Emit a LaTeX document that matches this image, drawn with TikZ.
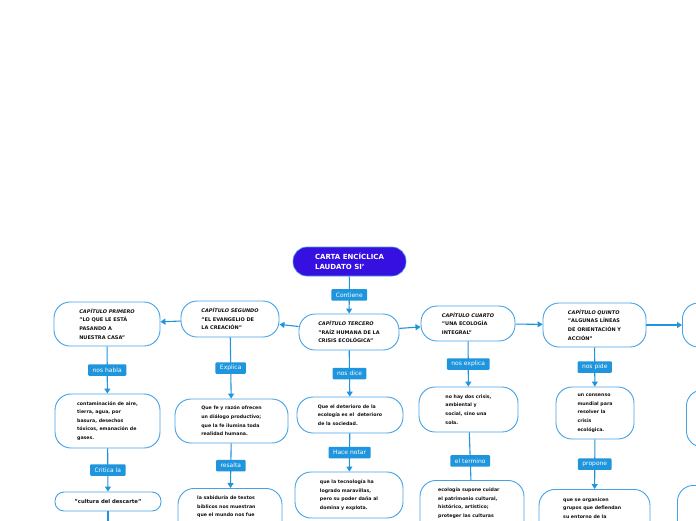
\documentclass[tikz,border=0pt]{standalone}
\usepackage{fontspec}
\setmainfont{DejaVu Sans}
\usetikzlibrary{arrows.meta}
\definecolor{bblue}{HTML}{45A2E6}
\definecolor{lblue}{HTML}{1F95DD}
\definecolor{rootc}{HTML}{3510E0}
\definecolor{txtc}{HTML}{111111}
\begin{document}
\begin{tikzpicture}[x=1pt,y=-1pt,
 box/.style={draw=bblue, line width=0.9pt, fill=white, rounded corners=#1, inner sep=0pt, align=left, text=txtc, font=\bfseries\fontsize{4.7}{8.6}\selectfont},
 box/.default=16pt,
 chap/.style={box, font=\bfseries\fontsize{5}{8.6}\selectfont},
 btext/.style={inner sep=0pt, align=left, text=txtc, font=\bfseries\fontsize{4.7}{8.6}\selectfont},
 lab/.style={fill=lblue, text=white, rounded corners=1pt, inner xsep=4.5pt, inner ysep=0pt, minimum height=11.5pt, font=\fontsize{6}{7}\selectfont},
 conn/.style={draw=lblue, line width=1.1pt},
 arr/.style={conn, -{Triangle[length=5pt,width=6pt]}}
]
\path[use as bounding box, fill=white] (0,0) rectangle (696,520);
\clip (0,0) rectangle (696,520);

% root
\node (root)[fill=rootc, draw=bblue, line width=0.6pt, rounded corners=14pt, minimum width=113pt, minimum height=29pt, inner sep=0pt, text=white, align=left, font=\bfseries\fontsize{7}{9.5}\selectfont] at (349.5,261.5) {CARTA ENCÍCLICA\\LAUDATO SI'};

% chapters
\node (ch1)[chap, minimum width=106pt, minimum height=44pt] at (107,324) {\textit{CAPÍTULO PRIMERO}\\"LO QUE LE ESTÁ\\PASANDO A\\NUESTRA CASA"};
\node (ch2)[chap, minimum width=98pt, minimum height=36pt] at (230,319) {\textit{CAPÍTULO SEGUNDO}\\"EL EVANGELIO DE\\LA CREACIÓN"};
\node (ch3)[chap, minimum width=100pt, minimum height=36pt] at (349,332) {\textit{CAPÍTULO TERCERO}\\"RAÍZ HUMANA DE LA\\CRISIS ECOLÓGICA"};
\node (ch4)[chap, minimum width=94pt, minimum height=35pt] at (468,323.5) {\textit{CAPÍTULO CUARTO}\\"UNA ECOLOGÍA\\INTEGRAL"};
\node (ch5)[chap, minimum width=103pt, minimum height=44pt] at (594.5,325) {\textit{CAPÍTULO QUINTO}\\"ALGUNAS LÍNEAS\\DE ORIENTACIÓN Y\\ACCIÓN"};
\node (ch6)[box, minimum width=80pt, minimum height=44pt, anchor=west] at (682,325) {};

% column 1
\node (c1a)[box, minimum width=105pt, minimum height=54pt] at (107.5,421) {contaminación de aire,\\tierra, agua, por\\basura, desechos\\tóxicos, emanación de\\gases.};
\node (c1b)[box=9pt, minimum width=106pt, minimum height=19pt, align=center, font=\bfseries\fontsize{5.3}{6}\selectfont] at (108,501.5) {"cultura del descarte"};
\coordinate (c1end) at (108,522);

% column 2
\node (c2a)[box, minimum width=113pt, minimum height=44pt] at (231.5,421) {Que fe y razón ofrecen\\un diálogo productivo;\\que la fe ilumina toda\\realidad humana.};
\node (c2b)[box, minimum width=104pt, minimum height=60pt, anchor=north] at (230,488) {};
\node (c2bt)[btext, anchor=north west] at (197,495.5) {la sabiduría de textos\\bíblicos nos muestran\\que el mundo nos fue};

% column 3
\node (c3a)[box, minimum width=106pt, minimum height=36pt] at (350,415) {Que el deterioro de la\\ecología es el \ deterioro\\de la sociedad.};
\node (c3b)[box, minimum width=108pt, minimum height=46pt] at (349,495) {que la tecnología ha\\logrado maravillas,\\pero su poder daña al\\domina y explota.};

% column 4
\node (c4a)[box, minimum width=99pt, minimum height=45pt] at (468.5,409.5) {no hay dos crisis,\\ambiental y\\social, sino una\\sola.};
\node (c4b)[box, minimum width=104pt, minimum height=60pt, anchor=north] at (472,480) {};
\node (c4bt)[btext, anchor=north west] at (438,487.5) {ecología supone cuidar\\el patrimonio cultural,\\histórico, artístico;\\proteger las culturas};

% column 5
\node (c5a)[box, minimum width=78pt, minimum height=52pt] at (595,413) {un consenso\\mundial para\\resolver la\\crisis\\ecológica.};
\node (c5b)[box, minimum width=111pt, minimum height=60pt, anchor=north] at (594.5,489) {};
\node (c5bt)[btext, anchor=north west] at (563,497.5) {que se organicen\\grupos que defiendan\\su entorno de la};

% column 6 (cut off)
\node (c6a)[box, minimum width=80pt, minimum height=57pt, anchor=west] at (686,418.5) {};
\node (c6b)[box, minimum width=80pt, minimum height=60pt, anchor=north west] at (677,485) {};

% connectors
\draw[arr] (root) -- node[lab] (l0) {Contiene} (ch3);
\draw[arr] (ch3) -- (ch2);
\draw[arr] (ch2) -- (ch1);
\draw[arr] (ch3) -- (ch4);
\draw[arr] (ch4) -- (ch5);
\draw[arr] (ch5) -- (ch6);

\draw[arr] (ch1) -- node[lab] (l1a) {nos habla} (c1a);
\draw[arr] (c1a) -- node[lab] (l1b) {Critica la} (c1b);
\draw[conn] (c1b) -- (c1end);

\draw[arr] (ch2) -- node[lab] (l2a) {Explica} (c2a);
\draw[arr] (c2a) -- node[lab] (l2b) {resalta} (c2b);

\draw[arr] (ch3) -- node[lab] (l3a) {nos dice} (c3a);
\draw[arr] (c3a) -- node[lab] (l3b) {Hace notar} (c3b);

\draw[arr] (ch4) -- node[lab] (l4a) {nos explica} (c4a);
\draw[conn] (c4a) -- node[lab, pos=0.6] (l4b) {el termino} (c4b);

\draw[arr] (ch5) -- node[lab] (l5a) {nos pide} (c5a);
\draw[arr] (c5a) -- node[lab] (l5b) {propone} (c5b);
\end{tikzpicture}
\end{document}
